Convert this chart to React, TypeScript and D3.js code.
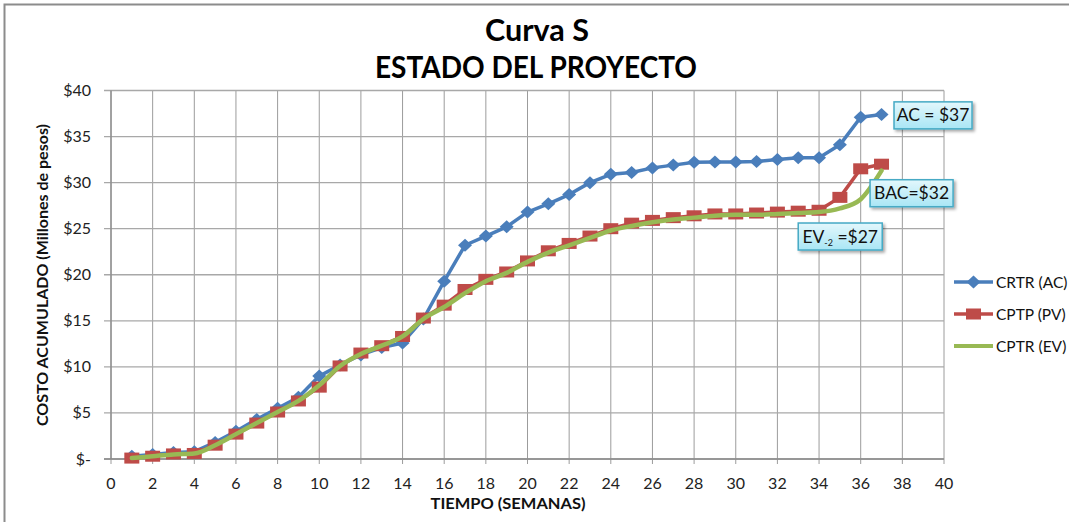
import { useEffect, useRef } from 'react';
import * as d3 from 'd3';

// weeks 1..37
const weeks = d3.range(1, 38);

const crtrAC = [
  0.3, 0.5, 0.7, 0.8, 1.8, 3.0, 4.3, 5.5, 6.7, 9.0,
  10.2, 11.3, 12.1, 12.6, 15.2, 19.3, 23.2, 24.2, 25.2, 26.8,
  27.7, 28.7, 30.0, 30.9, 31.1, 31.6, 31.9, 32.2, 32.25, 32.25,
  32.3, 32.5, 32.7, 32.7, 34.1, 37.1, 37.4,
];

const cptpPV = [
  0.1, 0.3, 0.55, 0.6, 1.5, 2.7, 3.9, 5.1, 6.3, 7.8,
  10.1, 11.5, 12.3, 13.3, 15.3, 16.7, 18.4, 19.5, 20.3, 21.5,
  22.6, 23.4, 24.2, 25.0, 25.6, 25.9, 26.2, 26.4, 26.6, 26.6,
  26.7, 26.8, 26.9, 27.0, 28.4, 31.5, 32.0,
];

const cptrEV = [
  0.1, 0.3, 0.5, 0.6, 1.5, 2.7, 3.9, 5.1, 6.3, 8.0,
  10.1, 11.4, 12.3, 13.3, 15.2, 16.5, 18.0, 19.3, 20.2, 21.4,
  22.4, 23.2, 24.0, 24.8, 25.3, 25.7, 26.0, 26.2, 26.4, 26.5,
  26.5, 26.6, 26.7, 26.8, 27.2, 28.2, 31.3,
];

const xTicks = d3.range(0, 41, 2);
const yTicks = d3.range(0, 41, 5);

const seriesNames = ['CRTR (AC)', 'CPTP (PV)', 'CPTR (EV)'];
const seriesColors = ['#4a7ebb', '#be4b48', '#98b954'];

// callouts: anchor in data units (left edge of box, vertical centre)
const callouts = [
  { main: 'AC = $37', sub: '', rest: '', x: 37.6, y: 37.3, w: 78 },
  { main: 'BAC=$32', sub: '', rest: '', x: 36.45, y: 28.85, w: 83 },
  { main: 'EV', sub: '-2', rest: ' =$27', x: 33.0, y: 24.15, w: 84 },
];

export default function App() {
  const svgRef = useRef<SVGSVGElement>(null);

  useEffect(() => {
    if (!svgRef.current) return;
    const width = 1069;
    const height = 522;
    const font = 'Lato, "Open Sans", sans-serif';

    const svg = d3.select(svgRef.current)
      .attr('width', width)
      .attr('height', height)
      .attr('viewBox', `0 0 ${width} ${height}`);
    svg.selectAll('*').remove();

    const x = d3.scaleLinear().domain([0, 40]).range([111, 944]);
    const y = d3.scaleLinear().domain([0, 40]).range([459, 90.5]);

    const defs = svg.append('defs');
    const grad = defs.append('linearGradient')
      .attr('id', 'callout-fill').attr('x1', 0).attr('y1', 0).attr('x2', 0).attr('y2', 1);
    grad.append('stop').attr('offset', '0%').attr('stop-color', '#e3f7fc');
    grad.append('stop').attr('offset', '100%').attr('stop-color', '#a9e6f5');
    const shadow = defs.append('filter').attr('id', 'shadow')
      .attr('x', '-20%').attr('y', '-30%').attr('width', '150%').attr('height', '170%');
    shadow.append('feDropShadow')
      .attr('dx', 2).attr('dy', 2).attr('stdDeviation', 1.5)
      .attr('flood-color', '#000').attr('flood-opacity', 0.35);

    // chart frame (partially cut off like the screenshot)
    svg.append('rect')
      .attr('x', 4.5).attr('y', 4.5)
      .attr('width', width + 10).attr('height', height + 10)
      .attr('fill', '#fff').attr('stroke', '#8c8c8c').attr('stroke-width', 2);

    // grid
    const grid = svg.append('g');
    grid.selectAll('.vg')
      .data(xTicks)
      .enter().append('line')
      .attr('x1', d => x(d)).attr('x2', d => x(d))
      .attr('y1', y(40)).attr('y2', y(0) + 5)
      .attr('stroke', '#9c9c9c').attr('stroke-width', 1);
    grid.selectAll('.hg')
      .data(yTicks)
      .enter().append('line')
      .attr('x1', x(0) - 7).attr('x2', x(40))
      .attr('y1', d => y(d)).attr('y2', d => y(d))
      .attr('stroke', '#a8a8a8').attr('stroke-width', 1.3);

    // axis lines
    svg.append('line')
      .attr('x1', x(0)).attr('x2', x(0)).attr('y1', y(40)).attr('y2', y(0))
      .attr('stroke', '#8a8a8a').attr('stroke-width', 1.3);
    svg.append('line')
      .attr('x1', x(0) - 7).attr('x2', x(40)).attr('y1', y(0)).attr('y2', y(0))
      .attr('stroke', '#8a8a8a').attr('stroke-width', 1.5);

    // tick labels
    svg.append('g').selectAll('text')
      .data(yTicks)
      .enter().append('text')
      .attr('x', 91)
      .attr('y', d => y(d) + 5.5)
      .attr('text-anchor', 'end')
      .attr('font-family', font)
      .attr('font-size', 16)
      .attr('fill', '#222')
      .text(d => (d === 0 ? '$-' : `$${d}`));

    svg.append('g').selectAll('text')
      .data(xTicks)
      .enter().append('text')
      .attr('x', d => x(d))
      .attr('y', 489)
      .attr('text-anchor', 'middle')
      .attr('font-family', font)
      .attr('font-size', 16)
      .attr('fill', '#222')
      .text(d => d);

    // axis titles
    svg.append('text')
      .attr('x', 508).attr('y', 509)
      .attr('text-anchor', 'middle')
      .attr('font-family', font).attr('font-weight', 700).attr('font-size', 16)
      .attr('textLength', 155).attr('lengthAdjust', 'spacingAndGlyphs')
      .attr('fill', '#111')
      .text('TIEMPO (SEMANAS)');

    svg.append('text')
      .attr('transform', `translate(48, 275) rotate(-90)`)
      .attr('text-anchor', 'middle')
      .attr('font-family', font).attr('font-weight', 700).attr('font-size', 16)
      .attr('textLength', 302).attr('lengthAdjust', 'spacingAndGlyphs')
      .attr('fill', '#111')
      .text('COSTO ACUMULADO (Millones de pesos)');

    // titles
    svg.append('text')
      .attr('x', 537).attr('y', 41)
      .attr('text-anchor', 'middle')
      .attr('font-family', font).attr('font-weight', 700).attr('font-size', 30)
      .attr('textLength', 104).attr('lengthAdjust', 'spacingAndGlyphs')
      .attr('fill', '#000')
      .text('Curva S');
    svg.append('text')
      .attr('x', 536).attr('y', 78)
      .attr('text-anchor', 'middle')
      .attr('font-family', font).attr('font-weight', 700).attr('font-size', 30)
      .attr('textLength', 322).attr('lengthAdjust', 'spacingAndGlyphs')
      .attr('fill', '#000')
      .text('ESTADO DEL PROYECTO');

    // series
    const straight = d3.line<number>()
      .x((_, i) => x(weeks[i]))
      .y(d => y(d));
    const smooth = d3.line<number>()
      .x((_, i) => x(weeks[i]))
      .y(d => y(d))
      .curve(d3.curveMonotoneX);

    const diamond = 'M0,-6.5L7,0L0,6.5L-7,0Z';

    // blue AC
    svg.append('path')
      .datum(crtrAC)
      .attr('d', straight)
      .attr('fill', 'none')
      .attr('stroke', seriesColors[0])
      .attr('stroke-width', 3.5)
      .attr('stroke-linejoin', 'round');
    svg.append('g').selectAll('path')
      .data(crtrAC)
      .enter().append('path')
      .attr('d', diamond)
      .attr('transform', (d, i) => `translate(${x(weeks[i])},${y(d)})`)
      .attr('fill', seriesColors[0]);

    // red PV
    svg.append('path')
      .datum(cptpPV)
      .attr('d', straight)
      .attr('fill', 'none')
      .attr('stroke', seriesColors[1])
      .attr('stroke-width', 3.5)
      .attr('stroke-linejoin', 'round');
    svg.append('g').selectAll('rect')
      .data(cptpPV)
      .enter().append('rect')
      .attr('x', (_, i) => x(weeks[i]) - 7.5)
      .attr('y', d => y(d) - 5.5)
      .attr('width', 15)
      .attr('height', 11)
      .attr('fill', seriesColors[1]);

    // green EV
    svg.append('path')
      .datum(cptrEV)
      .attr('d', smooth)
      .attr('fill', 'none')
      .attr('stroke', seriesColors[2])
      .attr('stroke-width', 4.5)
      .attr('stroke-linecap', 'round')
      .attr('stroke-linejoin', 'round');

    // callouts
    const co = svg.append('g').selectAll('g')
      .data(callouts)
      .enter().append('g')
      .attr('transform', d => `translate(${x(d.x)},${y(d.y) - 13.5})`);
    co.append('rect')
      .attr('width', d => d.w)
      .attr('height', 27)
      .attr('fill', 'url(#callout-fill)')
      .attr('stroke', '#46aac5')
      .attr('stroke-width', 1.5)
      .attr('filter', 'url(#shadow)');
    const ct = co.append('text')
      .attr('x', d => d.w / 2)
      .attr('y', 19.5)
      .attr('text-anchor', 'middle')
      .attr('font-family', font)
      .attr('font-size', 17.5)
      .attr('fill', '#111');
    ct.append('tspan').text(d => d.main);
    ct.filter(d => d.sub !== '').append('tspan')
      .attr('font-size', 9)
      .attr('dy', 3)
      .text(d => d.sub);
    ct.filter(d => d.rest !== '').append('tspan')
      .attr('dy', -3)
      .text(d => d.rest);

    // legend
    const legend = svg.append('g').selectAll('g')
      .data(seriesNames)
      .enter().append('g')
      .attr('transform', (_, i) => `translate(954, ${282 + i * 32})`);
    legend.append('line')
      .attr('x1', 0).attr('x2', 39)
      .attr('stroke', (_, i) => seriesColors[i])
      .attr('stroke-width', (_, i) => (i === 2 ? 4 : 3.5));
    legend.filter((_, i) => i === 0).append('path')
      .attr('d', diamond)
      .attr('transform', 'translate(19.5,0)')
      .attr('fill', seriesColors[0]);
    legend.filter((_, i) => i === 1).append('rect')
      .attr('x', 12).attr('y', -5.5).attr('width', 15).attr('height', 11)
      .attr('fill', seriesColors[1]);
    legend.append('text')
      .attr('x', 42).attr('y', 5.5)
      .attr('font-family', font)
      .attr('font-size', 15.5)
      .attr('fill', '#111')
      .text(d => d);
  }, []);

  return (
    <svg ref={svgRef} style={{ position: 'absolute', left: 0, top: 0 }} />
  );
}
